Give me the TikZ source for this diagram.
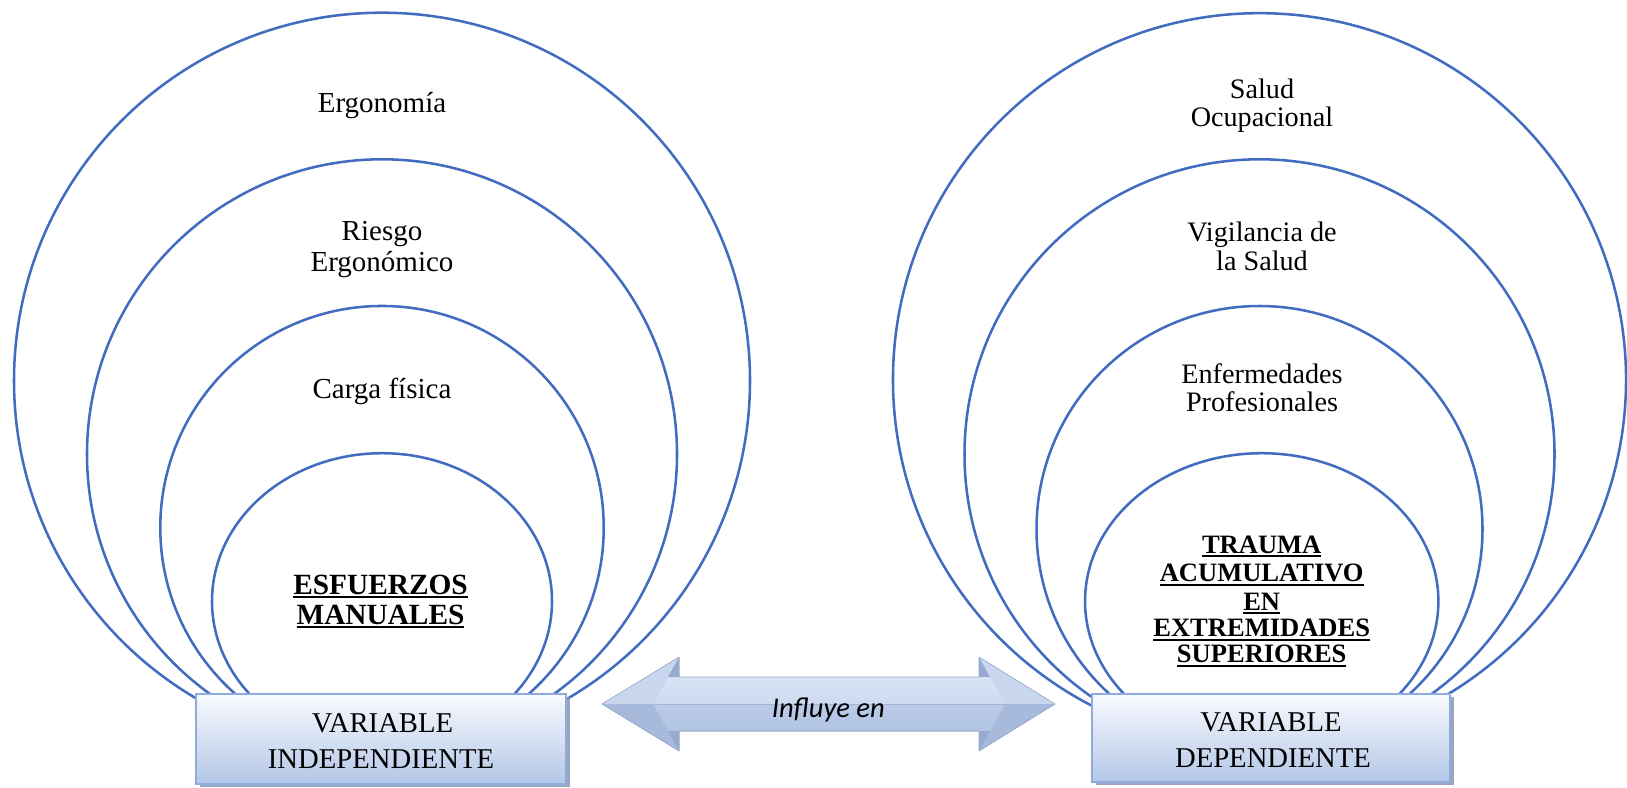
\documentclass[tikz,border=0pt]{standalone}
\usepackage{fontspec}
\setmainfont{Liberation Serif}
\newfontfamily\calibrifont{Carlito}
\usetikzlibrary{shadows}

\definecolor{ringblue}{HTML}{416CBF}
\definecolor{boxtop}{HTML}{F8FAFE}
\definecolor{boxbot}{HTML}{B4C7E7}
\definecolor{boxedge}{HTML}{8FAADC}
\definecolor{boxshade}{HTML}{8796B3}
\definecolor{arrhi}{HTML}{E2EAF8}
\definecolor{arrlight}{HTML}{CDDAF0}
\definecolor{arrmid}{HTML}{BACBE9}
\definecolor{arrlow}{HTML}{ACC0E0}
\definecolor{arrface}{HTML}{C8D6EE}
\definecolor{arrfacelow}{HTML}{A7BADB}
\definecolor{arredge}{HTML}{96ABCF}

% underlined bold caption
\newcommand\ulbar[1]{\vtop{\hbox{#1}\kern1.2pt\hrule height 1.6pt}}

\tikzset{
  ring/.style={draw=ringblue, line width=1.9pt, fill=white},
  varbox/.style={draw=boxedge, line width=1.1pt, top color=boxtop, bottom color=boxbot,
    inner sep=0pt,
    drop shadow={shadow xshift=3pt, shadow yshift=-2.4pt, fill=boxshade, opacity=0.85}},
  lblL/.style={anchor=base, inner sep=0pt, font=\fontsize{21.75}{26}\selectfont},
  lblR/.style={anchor=base, inner sep=0pt, font=\fontsize{21.15}{26}\selectfont},
  coreL/.style={anchor=base, inner sep=0pt, font=\fontsize{22}{26}\selectfont\bfseries},
  coreR/.style={anchor=base, inner sep=0pt, font=\fontsize{19.9}{24}\selectfont\bfseries},
  boxtxt/.style={anchor=base, inner sep=0pt, font=\fontsize{21.5}{26}\selectfont},
}

\begin{document}
\begin{tikzpicture}[x=0.75pt, y=-0.75pt]
\useasboundingbox (0,0) rectangle (1627,788);

% ---- left stack of rings (independent variable)
\draw[ring] (382,380.7) ellipse [x radius=276pt, y radius=276pt];
\draw[ring] (382,454.3) ellipse [x radius=221.25pt, y radius=221.25pt];
\draw[ring] (382,527.7) ellipse [x radius=166.3pt, y radius=166.3pt];
\draw[ring] (382,601.2) ellipse [x radius=127.5pt, y radius=111pt];

% ---- right stack of rings (dependent variable)
\draw[ring] (1259.5,379.7) ellipse [x radius=274.9pt, y radius=274.9pt];
\draw[ring] (1259.5,454.3) ellipse [x radius=221.25pt, y radius=221.25pt];
\draw[ring] (1259.5,529) ellipse [x radius=167.25pt, y radius=167.25pt];
\draw[ring] (1261.7,601.2) ellipse [x radius=132.5pt, y radius=111pt];

% ---- double arrow between the two variables
\coordinate (T1) at (602,704);  \coordinate (T2) at (1055,704);
\coordinate (A1) at (679,657);  \coordinate (A2) at (979,657);
\coordinate (B1) at (679,751);  \coordinate (B2) at (979,751);
\coordinate (C1) at (653,704);  \coordinate (C2) at (1005,704);
\coordinate (S1t) at (679,677); \coordinate (S2t) at (979,677);
\coordinate (S1b) at (679,731); \coordinate (S2b) at (979,731);
\coordinate (X1t) at (668,677); \coordinate (X2t) at (990,677);
\coordinate (X1b) at (668,731); \coordinate (X2b) at (990,731);

% soft shadow under the arrow
\foreach \d/\o in {6/0.05,4.5/0.07,3/0.09}{
  \fill[black, opacity=\o, shift={(1.5,\d)}]
    (T1)--(A1)--(S1t)--(S2t)--(A2)--(T2)--(B2)--(S2b)--(S1b)--(B1)--cycle;
}
% lower and upper halves
\fill[top color=arrmid, bottom color=arrlow]
  (T1)--(B1)--(S1b)--(S2b)--(B2)--(T2)--cycle;
\fill[top color=arrhi, bottom color=arrlight]
  (T1)--(A1)--(S1t)--(S2t)--(A2)--(T2)--cycle;
% bevelled head facets
\fill[arrface] (T1)--(A1)--(C1)--cycle;
\fill[arrfacelow] (T1)--(C1)--(B1)--cycle;
\fill[arrface] (T2)--(A2)--(C2)--cycle;
\fill[arrfacelow] (T2)--(C2)--(B2)--cycle;
\fill[arredge] (A1)--(S1t)--(X1t)--cycle;
\fill[arredge] (B1)--(S1b)--(X1b)--cycle;
\fill[arredge] (A2)--(S2t)--(X2t)--cycle;
\fill[arredge] (B2)--(S2b)--(X2b)--cycle;
\draw[arredge, line width=0.4pt, line join=round]
  (T1)--(A1)--(S1t)--(S2t)--(A2)--(T2)--(B2)--(S2b)--(S1b)--(B1)--cycle;
\node[anchor=base, inner sep=0pt, font=\calibrifont\itshape\fontsize{21.4}{26}\selectfont]
  (influye) at (828.3,717.3) {Influye en};

% ---- variable boxes
\node[varbox, minimum width=277.5pt, minimum height=67.5pt] (indep) at (381,739) {};
\node[varbox, minimum width=268.5pt, minimum height=66pt] (dep) at (1271,738) {};
\node[boxtxt] (indep1) at (382.5,732.7) {VARIABLE};
\node[boxtxt] (indep2) at (381,768.3) {INDEPENDIENTE};
\node[boxtxt] (dep1) at (1271,731.7) {VARIABLE};
\node[boxtxt] (dep2) at (1273,767.7) {DEPENDIENTE};

% ---- ring labels, left
\node[lblL] (ergo) at (382,112.7) {Ergonomía};
\node[lblL] (riesgo1) at (382,240.7) {Riesgo};
\node[lblL] (riesgo2) at (382,271.7) {Ergonómico};
\node[lblL] (carga) at (382,398.3) {Carga física};
\node[coreL] (esf1) at (380.5,594) {\ulbar{ESFUERZOS}};
\node[coreL] (esf2) at (380.5,624) {\ulbar{MANUALES}};

% ---- ring labels, right
\node[lblR] (salud1) at (1262,98.3) {Salud};
\node[lblR] (salud2) at (1262,126.7) {Ocupacional};
\node[lblR] (vig1) at (1262,241.7) {Vigilancia de};
\node[lblR] (vig2) at (1262,270) {la Salud};
\node[lblR] (enf1) at (1262,383.3) {Enfermedades};
\node[lblR] (enf2) at (1262,411.7) {Profesionales};
\node[coreR] (tr1) at (1261.7,553.3) {\ulbar{TRAUMA}};
\node[coreR] (tr2) at (1261.7,581.7) {\ulbar{ACUMULATIVO}};
\node[coreR] (tr3) at (1261.7,610) {\ulbar{EN}};
\node[coreR] (tr4) at (1261.7,636.7) {\ulbar{EXTREMIDADES}};
\node[coreR] (tr5) at (1261.7,662.7) {\ulbar{SUPERIORES}};
\end{tikzpicture}
\end{document}
